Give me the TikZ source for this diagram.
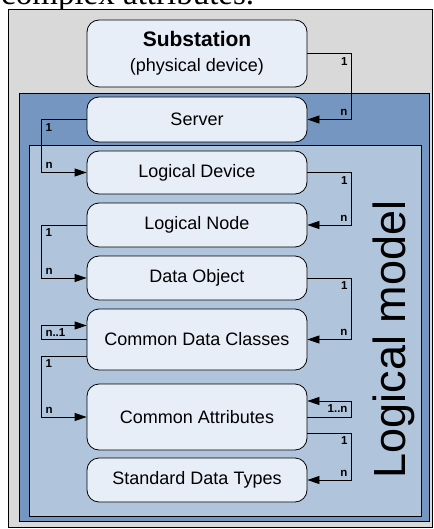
\documentclass[tikz,border=0pt]{standalone}
\usepackage{fontspec}
\setmainfont{Liberation Sans}
\newfontfamily\capfont{Liberation Serif}
\usetikzlibrary{math, arrows.meta}

\definecolor{pagegray}{RGB}{217,217,217}
\definecolor{serverblue}{RGB}{116,150,192}
\definecolor{modelblue}{RGB}{176,196,220}
\definecolor{boxfill}{RGB}{231,238,248}

\tikzset{
  cls/.style={draw, fill=boxfill, line width=0.8pt, rounded corners=12pt, minimum width=220pt,
    inner sep=0pt, align=center, font=\fontsize{18}{25}\selectfont},
  link/.style={-{Triangle[length=12pt,width=8pt]}, line width=0.8pt},
  mult/.style={font=\bfseries\fontsize{11.5}{12}\selectfont, inner sep=3.5pt},
  frame/.style={draw, line width=0.8pt},
}

\begin{document}
\begin{tikzpicture}[x=1pt, y=-1pt]
  \tikzmath{
    \rx=44;
    \lx=45;
  }
  \useasboundingbox (0,0) rectangle (433,529);
  \clip (0,0) rectangle (433,529);
  % caption line cut by the crop
  \node[anchor=base west, inner sep=0pt, font=\capfont\fontsize{33}{36}\selectfont] (cap) at (1,4.5) {complex attributes.};
  % frames
  \draw[frame, fill=pagegray] (8,9) rectangle (432,527);
  \draw[frame, fill=serverblue] (19.3,93.3) rectangle (429.3,521.7);
  \draw[frame, fill=modelblue] (29.5,145.7) rectangle (421,516.7);
  \node[rotate=90, anchor=base, font=\fontsize{45}{50}\selectfont] (title) at (405,339.5) {Logical model};
  % classes
  \node[cls, minimum height=67pt] (sub) at (197,53.5) {{\bfseries\fontsize{21}{25}\selectfont Substation}\\(physical device)};
  \node[cls, minimum height=45pt] (srv) at (197,119.5) {Server};
  \node[cls, minimum height=43pt] (ld) at (197,172.5) {Logical Device};
  \node[cls, minimum height=44pt] (ln) at (197,225) {Logical Node};
  \node[cls, minimum height=44pt] (dob) at (197,278) {Data Object};
  \node[cls, minimum height=61pt] (cdc) at (197,339.5) {Common Data Classes};
  \node[cls, minimum height=66pt] (ca) at (197,417) {Common Attributes};
  \node[cls, minimum height=44pt] (sdt) at (197,480) {Standard Data Types};
  % links
  \draw[link] (sub.east) -- ++(\rx,0) node[mult, below left] {1} |- node[mult, pos=0.5, above left] {n} (srv.east);
  \draw[link] (srv.west) -- ++(-\lx,0) node[mult, below right] {1} |- node[mult, pos=0.5, above right] {n} (ld.west);
  \draw[link] (ld.east) -- ++(\rx,0) node[mult, below left] {1} |- node[mult, pos=0.5, above left] {n} (ln.east);
  \draw[link] (ln.west) -- ++(-\lx,0) node[mult, below right] {1} |- node[mult, pos=0.5, above right] {n} (dob.west);
  \draw[link] (dob.east) -- ++(\rx,0) node[mult, below left] {1} |- node[mult, pos=0.5, above left] {n} (cdc.east);
  \draw[link] (cdc.west) -- ++(-\lx,0) |- node[mult, pos=0.25, right] {n..1} ([yshift=14pt]cdc.west);
  \draw[link] ([yshift=-16.5pt]cdc.west) -- ++(-\lx,0) node[mult, below right] {1} |- node[mult, pos=0.5, above right] {n} (ca.west);
  \draw[link] (ca.east) -- ++(\rx,0) |- node[mult, pos=0.25, left] {1..n} ([yshift=16pt]ca.east);
  \draw[link] ([yshift=-16pt]ca.east) -- ++(\rx,0) node[mult, below left] {1} |- node[mult, pos=0.5, above left] {n} (sdt.east);
\end{tikzpicture}
\end{document}
